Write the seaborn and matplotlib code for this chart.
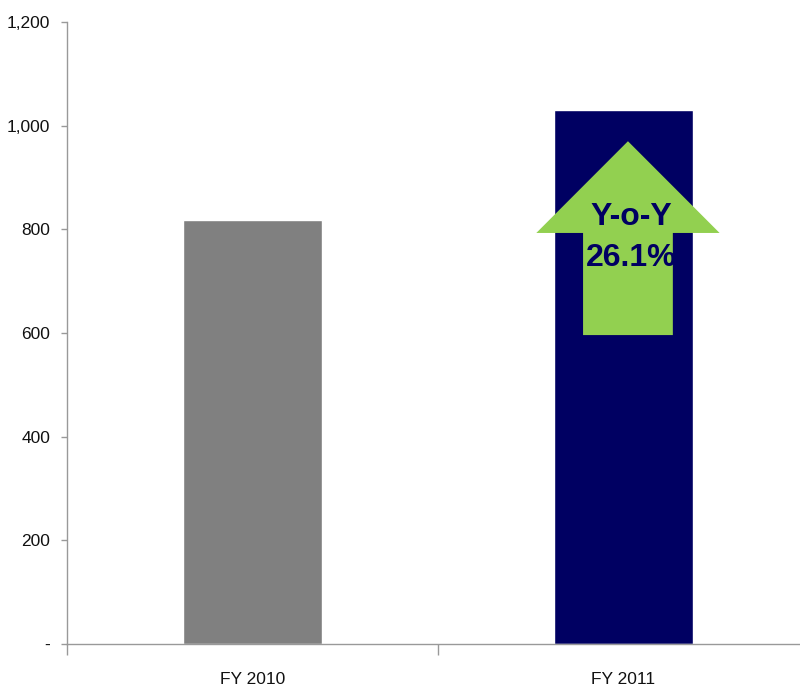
import matplotlib
matplotlib.use("Agg")
import matplotlib.pyplot as plt
import seaborn as sns
import pandas as pd
from matplotlib.patches import Polygon

categories = ["FY 2010", "FY 2011"]
values = [818, 1030]
bar_colors = ["#808080", "#000062"]
yticks = [0, 200, 400, 600, 800, 1000, 1200]
ytick_labels = ["-", "200", "400", "600", "800", "1,000", "1,200"]
growth_label = "Y-o-Y\n26.1%"

sns.set_theme(style="white")
plt.rcParams["font.family"] = ["Liberation Sans", "DejaVu Sans"]

fig = plt.figure(figsize=(8, 6.87), dpi=100)
ax = fig.add_axes([67/800, 1 - 644/687, 742/800, (644-22)/687])

df = pd.DataFrame({"cat": categories, "val": values})
sns.barplot(data=df, x="cat", y="val", hue="cat", palette=bar_colors,
            width=0.372, ax=ax, legend=False, saturation=1)

ax.set_ylim(0, 1200)
ax.set_xlim(-0.5, 1.5)
ax.set_yticks(yticks)
ax.set_yticklabels(ytick_labels, fontsize=12.5, color="#111111")
ax.set_xlabel("")
ax.set_ylabel("")
ax.tick_params(axis="y", left=True, length=4, width=1, color="#999999", pad=8)
ax.set_xticks([0, 1])
ax.set_xticklabels(categories, fontsize=12.5, color="#111111")
ax.tick_params(axis="x", bottom=False, pad=14)
ax.set_xticks([-0.5, 0.5, 1.5], minor=True)
ax.tick_params(axis="x", which="minor", bottom=True, length=8, width=1, color="#999999", direction="out")

for s in ["top", "right"]:
    ax.spines[s].set_visible(False)
for s in ["left", "bottom"]:
    ax.spines[s].set_color("#999999")
    ax.spines[s].set_linewidth(1)

# growth arrow over FY 2011 bar
cx = 1.012
shaft_half = 0.121
head_half = 0.247
base_y, neck_y, tip_y = 596, 793, 970
arrow = Polygon([(cx - shaft_half, base_y), (cx + shaft_half, base_y),
                 (cx + shaft_half, neck_y), (cx + head_half, neck_y),
                 (cx, tip_y), (cx - head_half, neck_y),
                 (cx - shaft_half, neck_y)],
                closed=True, facecolor="#92D050", edgecolor="none", zorder=5)
ax.add_patch(arrow)
ax.text(cx + 0.01, 784, growth_label, ha="center", va="center", fontsize=23,
        fontweight="bold", color="#000062",
        linespacing=1.5, zorder=6)

fig.savefig("out.png", dpi=100)
